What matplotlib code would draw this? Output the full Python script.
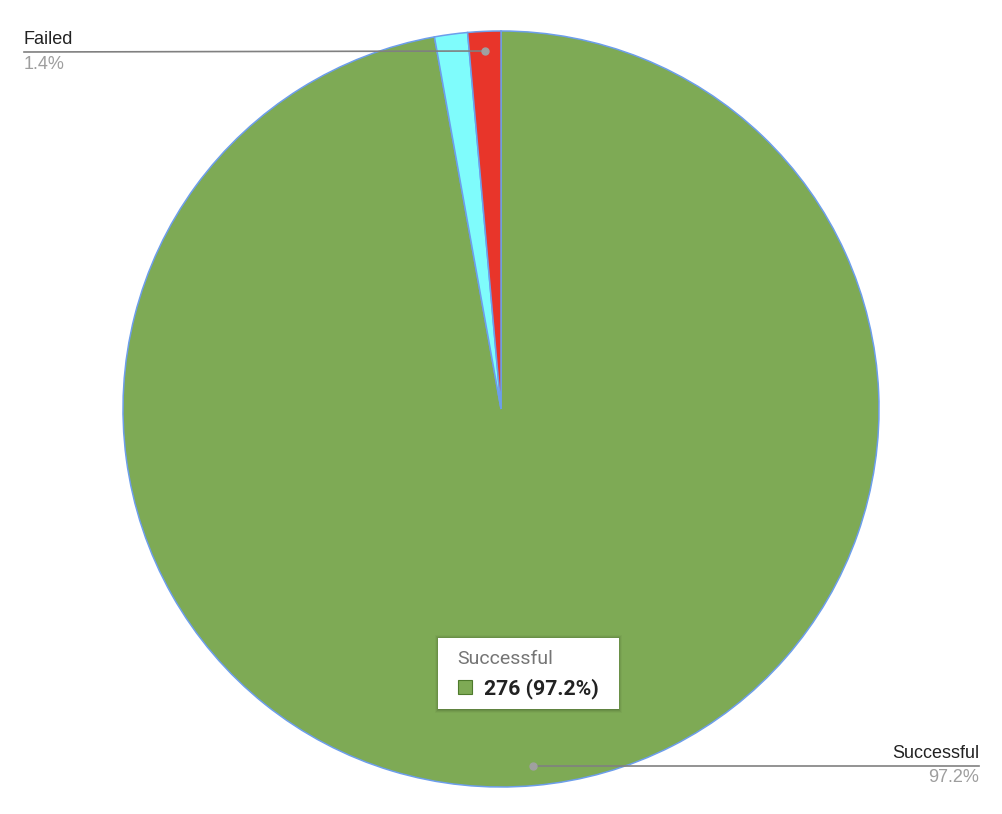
import matplotlib
matplotlib.use("Agg")
import matplotlib.pyplot as plt
from matplotlib.patches import Rectangle

labels = ["Successful", "Other", "Failed"]
values = [276, 4, 4]
colors = ["#7eaa55", "#7ffcfc", "#e8352a"]

W, H = 1002, 814
total = sum(values)
pct = [v / total * 100 for v in values]


def py(y):
    # pixel row (from top) -> data y
    return H - y


fig = plt.figure(figsize=(W / 100, H / 100), dpi=100)
ax = fig.add_axes([0, 0, 1, 1])
ax.pie(values, colors=colors, startangle=90, counterclock=False,
       center=(501, py(409)), radius=378,
       wedgeprops=dict(edgecolor="#6d9eeb", linewidth=1.1))
ax.set_xlim(0, W)
ax.set_ylim(0, H)
ax.set_aspect("equal")
ax.axis("off")

lab_font = ["Liberation Sans", "DejaVu Sans"]
# Failed label
ax.plot([24, 485], [py(52), py(51)], color="#808080", lw=1.2, zorder=5)
ax.plot([485], [py(51)], "o", color="#a0a0a0", ms=5, zorder=6)
ax.text(24, py(48), labels[2], fontsize=13, color="#222222", family=lab_font,
        ha="left", va="bottom")
ax.text(24, py(56), f"{pct[2]:.1f}%", fontsize=13, color="#9e9e9e", family=lab_font,
        ha="left", va="top")

# Successful label
ax.plot([533, 979], [py(766), py(766)], color="#808080", lw=1.2, zorder=5)
ax.plot([533], [py(766)], "o", color="#a0a0a0", ms=5, zorder=6)
ax.text(979, py(762), labels[0], fontsize=13, color="#222222", family=lab_font,
        ha="right", va="bottom")
ax.text(979, py(769), f"{pct[0]:.1f}%", fontsize=13, color="#9e9e9e", family=lab_font,
        ha="right", va="top")

# tooltip
for off, a in [(4, 0.03), (3, 0.05), (2, 0.07), (1, 0.09)]:
    ax.add_patch(Rectangle((438 - off + 1, py(709 + off)), 181 + 2 * off - 2, 71 + 2 * off - 1,
                           facecolor="black", alpha=a, lw=0, zorder=7))
ax.add_patch(Rectangle((438, py(709)), 181, 71, facecolor="white", lw=0, zorder=8))
tip_font = ["Roboto", "DejaVu Sans"]
ax.text(457, py(659), labels[0], fontsize=14, color="#757575", family=tip_font,
        ha="left", va="center", zorder=9)
ax.add_patch(Rectangle((458, py(694)), 14, 14, facecolor=colors[0], edgecolor="#4e7a2c",
                       lw=0.8, zorder=9))
ax.text(484, py(689), f"{values[0]} ({pct[0]:.1f}%)", fontsize=15.3, color="#222222",
        family=tip_font, fontweight="bold", ha="left", va="center", zorder=9)

fig.savefig("out.png", dpi=100, facecolor="white")
